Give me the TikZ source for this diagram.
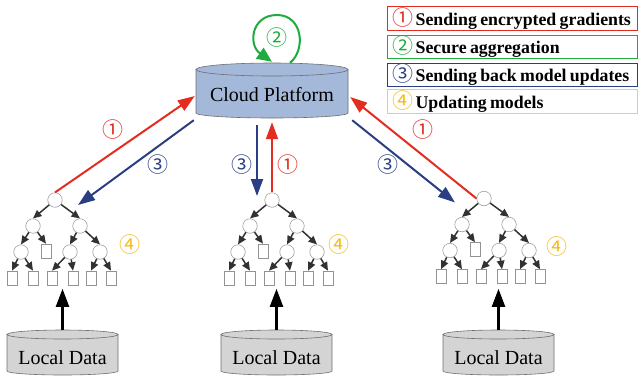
\documentclass[tikz,border=0pt]{standalone}
\usepackage{fontspec}
\setmainfont{Liberation Serif}
\newfontfamily\cjk{Noto Sans CJK SC}
\usetikzlibrary{arrows.meta,calc}
\definecolor{myred}{RGB}{226,45,32}
\definecolor{myblue}{RGB}{42,62,132}
\definecolor{mygreen}{RGB}{30,172,62}
\definecolor{myyellow}{RGB}{245,186,20}
\definecolor{yborder}{RGB}{240,212,70}
\definecolor{cloudfill}{RGB}{164,185,218}
\definecolor{ldfill}{RGB}{212,212,212}
\definecolor{cylborder}{RGB}{110,110,110}
\definecolor{treecol}{RGB}{50,50,50}
\newcommand\cnum[2]{{\cjk\fontsize{21bp}{21bp}\selectfont\color{#1}#2}}
\newcommand\mytree[3]{%
\begin{scope}[shift={(#2,#3)}]
\node[cnode] (#1root) at (55,200) {};
\node[cnode] (#1L) at (33,226) {};
\node[cnode] (#1R) at (80,226) {};
\node[cnode] (#1LL) at (21,252) {};
\node[lnode] (#1LR) at (46,251) {};
\node[cnode] (#1RL) at (70,252) {};
\node[cnode] (#1RR) at (100,252) {};
\foreach \i/\x in {1/12,2/33,3/52,4/73,5/91,6/111} {\node[lnode] (#1leaf\i) at (\x,278) {};}
\end{scope}
\draw[tarrow] (#1root) -- (#1L.north);
\draw[tarrow] (#1root) -- (#1R.north);
\draw[tarrow] (#1L) -- (#1LL.north);
\draw[tarrow] (#1L) -- (#1LR.north);
\draw[tarrow] (#1R) -- (#1RL.north);
\draw[tarrow] (#1R) -- (#1RR.north);
\draw[tarrow] (#1LL) -- (#1leaf1.north);
\draw[tarrow] (#1LL) -- (#1leaf2.north);
\draw[tarrow] (#1RL) -- (#1leaf3.north);
\draw[tarrow] (#1RL) -- (#1leaf4.north);
\draw[tarrow] (#1RR) -- (#1leaf5.north);
\draw[tarrow] (#1RR) -- (#1leaf6.north);
}
\newcommand\localdata[3]{%
\filldraw[fill=ldfill,draw=cylborder,line width=0.6bp] (#2,334.5) -- (#2,371) arc[start angle=180,end angle=0,x radius=55.5,y radius=4] -- ({#2+111},334.5) -- cycle;
\filldraw[fill=ldfill,draw=cylborder,line width=0.6bp] ({#2+55.5},334.5) ellipse[x radius=55.5,y radius=4.5];
\node[bigtext,minimum width=111bp,minimum height=56bp,inner sep=0] (#1) at ({#2+55.5},358) {Local Data};
\coordinate (#1tip) at ($(#1.north)+(0,-41)$);
\draw[ldarrow] (#1.north) -- (#1tip);
}
\begin{document}
\begin{tikzpicture}[x=1bp,y=-1bp,
  cnode/.style={circle,draw=gray!75,fill=white,line width=0.6bp,minimum size=14.5bp,inner sep=0},
  lnode/.style={rectangle,draw=gray!85,fill=white,line width=0.6bp,minimum width=10bp,minimum height=14bp,inner sep=0},
  tarrow/.style={draw=treecol,line width=1.5bp,-{Triangle[length=8.5bp,width=7.5bp]}},
  ldarrow/.style={draw=black,line width=2.2bp,-{Triangle[length=18bp,width=13bp]}},
  redarrow/.style={draw=myred,line width=2bp,-{Triangle[length=17bp,width=12bp]}},
  bluearrow/.style={draw=myblue,line width=2bp,-{Triangle[length=17bp,width=12bp]}},
  greenarrow/.style={draw=mygreen,line width=2bp,-{Triangle[length=15bp,width=13bp]}},
  bigtext/.style={font=\fontsize{20bp}{22bp}\selectfont},
  legbox/.style={anchor=west,minimum height=23.5bp,text width=240bp,inner xsep=5bp,inner ysep=0,align=left,line width=1.2bp},
]
\useasboundingbox (0,0) rectangle (638,376);

% cloud platform cylinder
\filldraw[fill=cloudfill,draw=cylborder,line width=0.6bp] (196,69.5) -- (196,113) arc[start angle=180,end angle=0,x radius=76,y radius=5] -- (348,69.5) -- cycle;
\filldraw[fill=cloudfill,draw=cylborder,line width=0.6bp] (272,69.5) ellipse[x radius=76,y radius=6.5];
\node[bigtext,minimum width=152bp,minimum height=44bp,inner sep=0] (cloud) at (272,95) {Cloud Platform};

% self loop
\coordinate (loopS) at ($(cloud.north)+(18,-10)$);
\coordinate (loopE) at ($(cloud.north)+(0,-11)$);
\draw[greenarrow] (loopS) .. controls (306,50) and (303,15) .. (277,15) .. controls (251,15) and (248,45) .. (loopE);
\node (lbl2) at (277,38) {\cnum{mygreen}{②}};

% trees
\mytree{A}{0}{0}
\mytree{B}{217}{0}
\mytree{C}{429}{-1.5}

% local data
\localdata{ldA}{7}{}
\localdata{ldB}{221}{}
\localdata{ldC}{443}{}

% connector end points
\coordinate (cRedA) at ($(cloud.west)+(-1,1)$);
\coordinate (cBlueA) at ($(cloud.south west)+(-2,3)$);
\coordinate (tBlueA) at ($(Aroot)+(23,5)$);
\coordinate (cBlueB) at ($(cloud.south)+(-15,8)$);
\coordinate (tBlueB) at ($(Broot)+(-15,-4)$);
\coordinate (cRedB) at ($(cloud.south)+(0,5)$);
\coordinate (cRedC) at ($(cloud.east)+(2,2)$);
\coordinate (cBlueC) at ($(cloud.south east)+(4,3)$);
\coordinate (tBlueC) at ($(Croot)+(-29,4)$);

\draw[redarrow] (Aroot.north) -- (cRedA);
\draw[bluearrow] (cBlueA) -- (tBlueA);
\draw[bluearrow] (cBlueB) -- (tBlueB);
\draw[redarrow] (Broot.north) -- (cRedB);
\draw[redarrow] (Croot.west) -- (cRedC);
\draw[bluearrow] (cBlueC) -- (tBlueC);

% step labels
\node (lA1) at (113,130) {\cnum{myred}{①}};
\node (lA3) at (158,165) {\cnum{myblue}{③}};
\node (lB3) at (242,165) {\cnum{myblue}{③}};
\node (lB1) at (288,165) {\cnum{myred}{①}};
\node (lC1) at (423,130) {\cnum{myred}{①}};
\node (lC3) at (388,165) {\cnum{myblue}{③}};
\node (lA4) at (130,245) {\cnum{myyellow}{④}};
\node (lB4) at (339,245) {\cnum{myyellow}{④}};
\node (lC4) at (557,247) {\cnum{myyellow}{④}};

% legend
\newcommand\legt[1]{{\fontsize{17.8bp}{18bp}\selectfont\bfseries #1}}
\node[legbox,draw=myred] (leg1) at (387,18.5) {\cnum{myred}{①}\hspace{2bp}\legt{Sending encrypted gradients}};
\node[legbox,draw=mygreen] (leg2) at (387,47) {\cnum{mygreen}{②}\hspace{2bp}\legt{Secure aggregation}};
\node[legbox,draw=myblue] (leg3) at (387,75) {\cnum{myblue}{③}\hspace{2bp}\legt{Sending back model updates}};
\node[legbox,draw=yborder] (leg4) at (387,101.5) {\cnum{myyellow}{④}\hspace{2bp}\legt{Updating models}};
\end{tikzpicture}
\end{document}
